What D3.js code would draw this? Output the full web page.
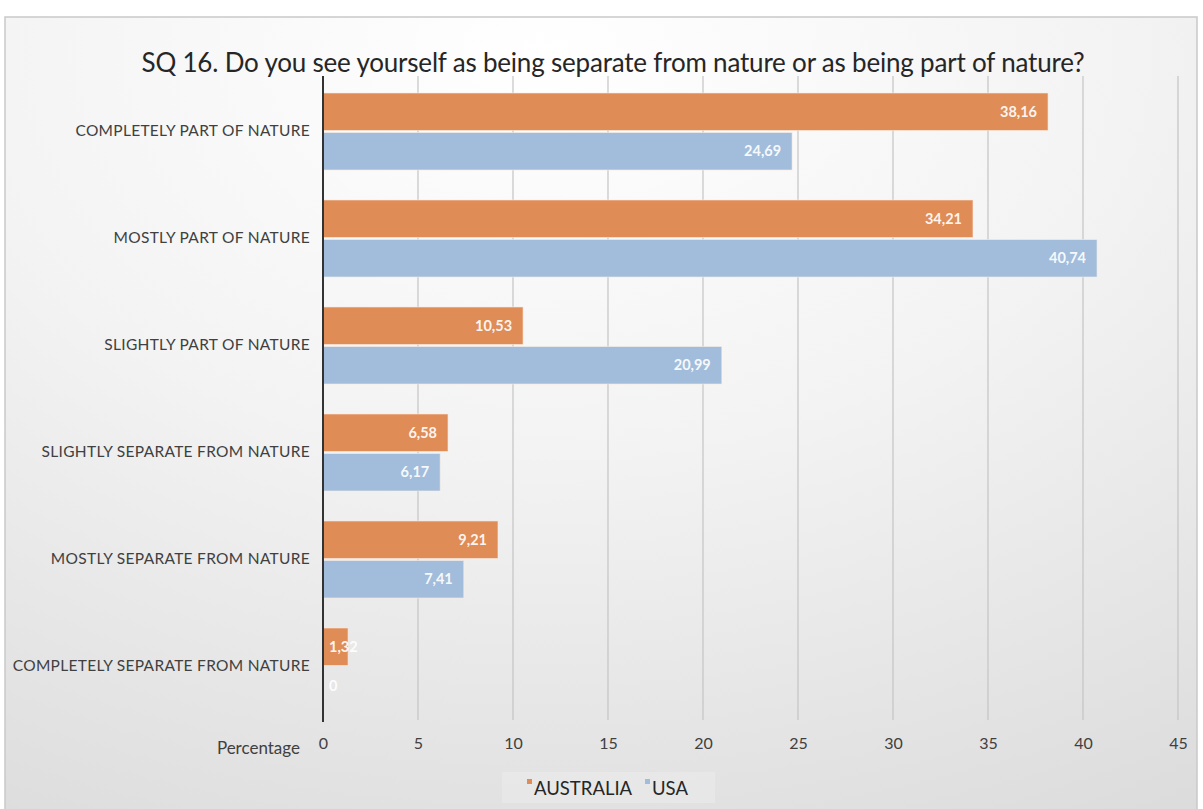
<!doctype html>
<html lang="en">
<head>
<meta charset="UTF-8">
<title>SQ 16</title>
<script src="https://d3js.org/d3.v7.min.js"></script>
<style>
	body { margin:0; background:#fff; }
	text { font-family: Lato, "Open Sans", sans-serif; }
</style>
</head>
<body>
<div id="myDiv"></div>
<script>
// data
var categories = ["COMPLETELY PART OF NATURE", "MOSTLY PART OF NATURE", "SLIGHTLY PART OF NATURE",
	"SLIGHTLY SEPARATE FROM NATURE", "MOSTLY SEPARATE FROM NATURE", "COMPLETELY SEPARATE FROM NATURE"];
var seriesNames = ["AUSTRALIA", "USA"];
var australia = [38.16, 34.21, 10.53, 6.58, 9.21, 1.32];
var usa = [24.69, 40.74, 20.99, 6.17, 7.41, 0];
var xTicks = [0, 5, 10, 15, 20, 25, 30, 35, 40, 45];
var colors = ["#df8c57", "#a2bddb"];

var width = 1203, height = 809;
var x0 = 323, x1 = 1178;

var svg = d3.select("#myDiv").append("svg")
	.attr("width", width)
	.attr("height", height);

// background
var defs = svg.append("defs");
var grad = defs.append("radialGradient").attr("id", "bg")
	.attr("cx", "0.45").attr("cy", "0.05").attr("r", "1.1");
grad.append("stop").attr("offset", "0%").attr("stop-color", "#ffffff");
grad.append("stop").attr("offset", "45%").attr("stop-color", "#f3f3f3");
grad.append("stop").attr("offset", "100%").attr("stop-color", "#dbdbdb");

svg.append("rect").attr("x", 5).attr("y", 17).attr("width", 1192).attr("height", 800)
	.attr("fill", "url(#bg)")
	.attr("stroke", "#c9c9c9").attr("stroke-width", 1.5);

// title
svg.append("text")
	.attr("x", 613).attr("y", 72)
	.attr("text-anchor", "middle")
	.attr("font-size", 26)
	.attr("fill", "#262626")
	.attr("letter-spacing", "-0.2")
	.text("SQ 16. Do you see yourself as being separate from nature or as being part of nature?");

// scales
var xScale = d3.scaleLinear().domain([0, 45]).range([x0, x1]);
var yScale = d3.scaleBand().domain(categories).range([78, 720])
	.paddingInner(0.28).paddingOuter(0.14);
var ySub = d3.scaleBand().domain(seriesNames).range([0, yScale.bandwidth()]).paddingInner(0.05);

// gridlines
svg.append("g").selectAll("line").data(xTicks.slice(1)).enter().append("line")
	.attr("x1", function(d){ return xScale(d); })
	.attr("x2", function(d){ return xScale(d); })
	.attr("y1", 76).attr("y2", 720)
	.attr("stroke", "#c4c4c4").attr("stroke-width", 1.2);

// x tick labels
var xAxis = d3.axisBottom(xScale).tickValues(xTicks).tickSize(0).tickPadding(0);
var gx = svg.append("g").attr("transform", "translate(0,739)").call(xAxis);
gx.select(".domain").remove();
gx.selectAll("text")
	.attr("font-size", 16).attr("fill", "#404040")
	.attr("dy", "0.6em");

svg.append("text").attr("x", 300).attr("y", 754).attr("text-anchor", "end")
	.attr("font-size", 17).attr("fill", "#404040").text("Percentage");

// category labels
var yAxis = d3.axisLeft(yScale).tickSize(0).tickPadding(13);
var gy = svg.append("g").attr("transform", "translate(" + x0 + ",0)").call(yAxis);
gy.select(".domain").remove();
gy.selectAll("text").attr("font-size", 15.5).attr("letter-spacing", "0.3").attr("fill", "#404040");

// bars
var rows = categories.map(function(c, i){
	return [{cat: c, s: seriesNames[0], v: australia[i]}, {cat: c, s: seriesNames[1], v: usa[i]}];
});
var groups = svg.append("g").selectAll("g").data(rows).enter().append("g")
	.attr("transform", function(d){ return "translate(0," + yScale(d[0].cat) + ")"; });

groups.selectAll("rect").data(function(d){ return d; }).enter().append("rect")
	.attr("x", x0)
	.attr("y", function(d){ return ySub(d.s); })
	.attr("width", function(d){ return xScale(d.v) - x0; })
	.attr("height", ySub.bandwidth())
	.attr("fill", function(d, i){ return colors[i]; })
	.attr("stroke", "#fbeee4").attr("stroke-opacity", 0.6).attr("stroke-width", 1);

// value labels
var fmt = function(v){ return v === 0 ? "0" : d3.format(".2f")(v).replace(".", ","); };
groups.selectAll("text").data(function(d){ return d; }).enter().append("text")
	.attr("y", function(d){ return ySub(d.s) + ySub.bandwidth() / 2; })
	.attr("dy", "0.35em")
	.attr("font-size", 14.5).attr("font-weight", "bold")
	.attr("fill", "#fff").attr("fill-opacity", 0.92)
	.text(function(d){ return fmt(d.v); })
	.attr("text-anchor", "end")
	.attr("x", function(d){
		var w = this.getComputedTextLength();
		return Math.max(xScale(d.v) - 11, x0 + w + 6);
	});

// y axis line
svg.append("line").attr("x1", x0).attr("x2", x0).attr("y1", 76).attr("y2", 722)
	.attr("stroke", "#333").attr("stroke-width", 2);

// legend
var lg = svg.append("g");
lg.append("rect").attr("x", 502).attr("y", 772).attr("width", 213).attr("height", 31)
	.attr("fill", "#ffffff").attr("opacity", 0.2);
var legX = [534, 652];
seriesNames.forEach(function(s, i){
	lg.append("rect").attr("x", legX[i] - 7).attr("y", 779).attr("width", 5).attr("height", 5)
		.attr("fill", colors[i]);
	lg.append("text").attr("x", legX[i]).attr("y", 795)
		.attr("font-size", 18.5).attr("fill", "#262626").text(s);
});
</script>
</body>
</html>
